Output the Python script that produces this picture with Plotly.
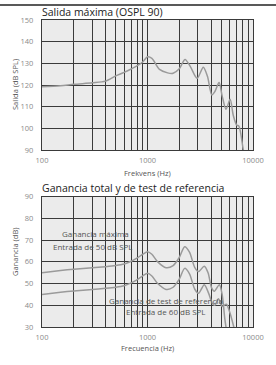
import plotly.graph_objects as go
from plotly.subplots import make_subplots

# ---- data ----
freq_ospl = [100, 150, 200, 300, 400, 500, 600, 700, 800, 900, 1000, 1100, 1300, 1550, 1750,
             2000, 2270, 2550, 2950, 3380, 3700, 4070, 4350, 4770, 5100, 5550, 6070, 6500,
             7000, 7350, 8100, 8500]
ospl90 = [119.2, 119.6, 120.3, 121.0, 121.8, 124.2, 125.8, 127.4, 128.9, 130.6, 133.0, 132.3,
          127.2, 125.6, 125.4, 127.5, 131.8, 128.5, 123.1, 128.2, 124.0, 115.4, 117.0, 121.1,
          115.0, 108.8, 113.4, 106.0, 101.5, 101.0, 90.0, 86.0]

freq_gain_max = [100, 150, 200, 300, 400, 500, 600, 700, 800, 900, 1000, 1100, 1250, 1500,
                 1750, 2000, 2250, 2500, 2800, 3050, 3450, 3750, 4050, 4300, 4800, 5100, 5400, 5700]
gain_max = [55.0, 56.0, 56.6, 57.3, 57.8, 58.3, 59.0, 60.3, 61.8, 63.5, 64.7, 63.5, 60.0, 57.3,
            58.3, 62.0, 67.0, 64.5, 57.5, 55.5, 58.0, 55.0, 48.0, 46.5, 49.5, 45.0, 34.0, 26.0]

freq_gain_ref = [100, 150, 200, 300, 400, 500, 600, 700, 800, 900, 1000, 1100, 1250, 1500,
                 1750, 2000, 2250, 2500, 2800, 3050, 3450, 3800, 4100, 4350, 4700, 5100,
                 5600, 6000, 6500, 6800]
gain_ref = [45.0, 46.0, 46.6, 47.3, 47.8, 48.3, 49.0, 50.3, 51.8, 53.5, 54.7, 53.5, 50.0, 47.3,
            48.3, 52.0, 57.0, 54.5, 47.5, 45.5, 49.5, 45.5, 41.0, 40.0, 43.0, 39.5,
            40.5, 37.0, 31.0, 27.0]

grid_freqs = [100, 200, 300, 400, 500, 600, 700, 800, 900, 1000,
              2000, 3000, 4000, 5000, 6000, 7000, 8000, 9000, 10000]
grid_labels = ["100"] + [""] * 8 + ["1000"] + [""] * 8 + ["10000"]

top_title = "Salida máxima (OSPL 90)"
bottom_title = "Ganancia total y de test de referencia"

# ---- layout geometry (pixels) ----
W, H = 276, 365
ML, MR, MT, MB = 42, 23, 20, 38
PH = H - MT - MB
PW = W - ML - MR

def py(y):  # pixel y -> paper y
    return (H - MB - y) / PH

def px(x):
    return (x - ML) / PW

fig = make_subplots(rows=2, cols=1)

line_style = dict(color="#9a9a9a", width=1.5, shape="spline", smoothing=0.8)
fig.add_trace(go.Scatter(x=freq_ospl, y=ospl90, mode="lines", line=line_style,
                         showlegend=False, hoverinfo="skip"), row=1, col=1)
fig.add_trace(go.Scatter(x=freq_gain_max, y=gain_max, mode="lines", line=line_style,
                         showlegend=False, hoverinfo="skip"), row=2, col=1)
fig.add_trace(go.Scatter(x=freq_gain_ref, y=gain_ref, mode="lines", line=line_style,
                         showlegend=False, hoverinfo="skip"), row=2, col=1)

grid_col = "#3a3a3a"
tick_font = dict(family="Open Sans", size=7.5, color="#8a8a8a")

xcommon = dict(type="log", range=[2, 4], tickvals=grid_freqs, ticktext=grid_labels,
               showgrid=True, gridcolor=grid_col, gridwidth=1.3, zeroline=False,
               showline=True, linecolor=grid_col, linewidth=1.3, mirror=True,
               ticks="", tickfont=tick_font, ticklabelstandoff=3, automargin=False)
ycommon = dict(showgrid=True, gridcolor=grid_col, gridwidth=1.3, zeroline=False,
               showline=True, linecolor=grid_col, linewidth=1.3, mirror=True,
               ticks="", tickfont=tick_font, ticklabelstandoff=6, automargin=False)

fig.update_layout(
    width=W, height=H,
    margin=dict(l=ML, r=MR, t=MT, b=MB),
    paper_bgcolor="white", plot_bgcolor="#ebebeb",
    font=dict(family="Open Sans", color="#444"),
    xaxis=dict(xcommon, domain=[0, 1]),
    xaxis2=dict(xcommon, domain=[0, 1]),
    yaxis=dict(ycommon, domain=[py(150), 1], range=[90, 150], dtick=10),
    yaxis2=dict(ycommon, domain=[0, py(196.7)], range=[30, 90], dtick=10),
)

ann = []
title_font = dict(family="Open Sans", size=10.5, color="#222")
ann.append(dict(text=top_title, x=0, y=py(12), xref="paper", yref="paper",
                xanchor="left", yanchor="middle", showarrow=False, font=title_font,
                xshift=-2))
ann.append(dict(text=bottom_title, x=0, y=py(188), xref="paper", yref="paper",
                xanchor="left", yanchor="middle", showarrow=False, font=title_font,
                xshift=-2))

axis_font = dict(family="Open Sans", size=7.5, color="#555")
ann.append(dict(text="Frekvens (Hz)", x=px(147), y=py(173), xref="paper", yref="paper",
                xanchor="center", yanchor="middle", showarrow=False, font=axis_font))
ann.append(dict(text="Frecuencia (Hz)", x=px(147), y=py(348), xref="paper", yref="paper",
                xanchor="center", yanchor="middle", showarrow=False, font=axis_font))
ann.append(dict(text="Salida (dB SPL)", x=px(15), y=py(85), xref="paper", yref="paper",
                xanchor="center", yanchor="middle", showarrow=False, textangle=-90,
                font=axis_font))
ann.append(dict(text="Ganancia (dB)", x=px(15), y=py(252), xref="paper", yref="paper",
                xanchor="center", yanchor="middle", showarrow=False, textangle=-90,
                font=axis_font))

lab_font = dict(family="Open Sans", size=8, color="#555")
ann.append(dict(text="Ganancia máxima", x=px(95), y=py(233), xref="paper", yref="paper",
                xanchor="center", yanchor="middle", showarrow=False, font=lab_font))
ann.append(dict(text="Entrada de 50 dB SPL", x=px(93), y=py(246), xref="paper", yref="paper",
                xanchor="center", yanchor="middle", showarrow=False, font=lab_font))
ann.append(dict(text="Ganancia de test de referencia", x=px(166), y=py(300), xref="paper",
                yref="paper", xanchor="center", yanchor="middle", showarrow=False, font=lab_font))
ann.append(dict(text="Entrada de 60 dB SPL", x=px(165.5), y=py(311), xref="paper", yref="paper",
                xanchor="center", yanchor="middle", showarrow=False, font=lab_font))
fig.update_layout(annotations=ann)

fig.add_shape(type="line", xref="paper", yref="paper", x0=px(0), x1=px(276),
              y0=py(5), y1=py(5), line=dict(color="#222", width=1.5))

fig.write_html("out.html", post_script="document.body.style.margin='0';",
               config={"displayModeBar": False})
